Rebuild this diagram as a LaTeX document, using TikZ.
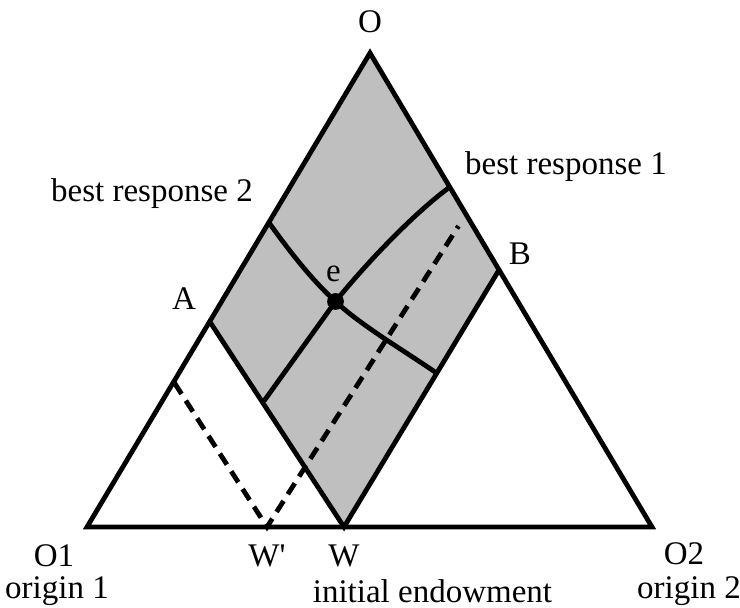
\documentclass[tikz,border=0pt]{standalone}
\usepackage{fontspec}
\setmainfont{Liberation Serif}
\newfontfamily\rawserif{Liberation Serif}
\usepackage{xcolor}
\usetikzlibrary{positioning}

\begin{document}
\begin{tikzpicture}[
    x=0.5pt, y=-0.5pt,
    edge/.style={line width=2.4pt, line join=miter},
    resp/.style={line width=2.4pt},
    guide/.style={line width=2.4pt, dash pattern=on 6.5pt off 4pt},
    lbl/.style={font=\fontsize{16.5}{19}\selectfont, inner sep=0pt},
]
\useasboundingbox (0,0) rectangle (740,608);
% Corner points
\coordinate (o1) at (87,527);
\coordinate (o2) at (652,527);
\coordinate (o) at (370,53);
\coordinate (a) at (210,322);
\coordinate (b) at (499,270);
\coordinate (w) at (344,527);
\coordinate (wp) at (267,527);
\coordinate (e) at (335.5,301.5);
\coordinate (br1top) at (448.5,188);
\coordinate (br1bot) at (264,401);
\coordinate (br2left) at (268.5,222);
\coordinate (br2right) at (435,372);
\coordinate (dashtop) at (458.5,226);
\coordinate (dashleft) at (174.5,383);

% Shaded set
\fill[gray!50] (a) -- (o) -- (b) -- (w) -- cycle;

% Edgeworth triangle
\draw[edge] (o1) -- (o) -- (o2) -- cycle;
\draw[edge] (a) -- (w) -- (b);

% Best responses
\draw[resp] (br1bot) -- (e) .. controls (363.5,266.5) and (412,215) .. (br1top);
\draw[resp] (br2left) .. controls (290,252) and (312,280) .. (e)
    .. controls (362,326) and (400,348) .. (br2right);

% Dashed lines through W'
\draw[guide] (dashleft) -- (wp) -- (dashtop);

\fill (e) circle (4.2pt);

% Labels
\node[lbl] (lo) at (370,22) {O};
\node[lbl] (lbr1) at (566,167) {best response 1};
\node[lbl] (lbr2) at (152,194) {best response 2};
\node[lbl] (lb) at (520,254) {B};
\node[lbl] (la) at (184,299) {A};
\node[lbl] (le) at (333.5,274) {e};
\node[lbl] (lo1) at (54,556) {O1};
\node[lbl] (lorig1) at (57,591) {origin 1};
\node[lbl] (lwp) at (267,556) {\rawserif W'};
\node[lbl] (lw) at (344,556) {W};
\node[lbl] (lend) at (432.5,591) {initial endowment};
\node[lbl] (lo2) at (684,554) {O2};
\node[lbl] (lorig2) at (689,591) {origin 2};
\end{tikzpicture}
\end{document}
